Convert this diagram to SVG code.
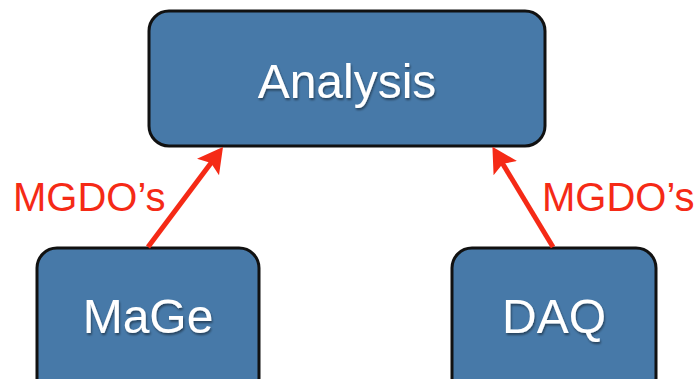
<svg xmlns="http://www.w3.org/2000/svg" width="697" height="379" viewBox="0 0 697 379">
<style>
.box{fill:#4779a8;stroke:#111;stroke-width:3}
.lbl{font-family:"Liberation Sans",Arial,sans-serif;font-size:48px;fill:#fff;text-anchor:middle}
.edge{font-family:"Liberation Sans",Arial,sans-serif;font-size:40px;fill:#f52a16}
.con{stroke:#f52a16;stroke-width:5;fill:none;marker-end:url(#ah)}
</style>
<defs>
<marker id="ah" viewBox="0 0 10 10" refX="8" refY="5" markerWidth="5" markerHeight="5.5" orient="auto" markerUnits="strokeWidth" preserveAspectRatio="none">
<path d="M0,0 L10,5 L0,10 L2,5 z" fill="#f52a16"/>
</marker>
<filter id="sh" x="-10%" y="-10%" width="120%" height="130%">
<feDropShadow dx="1" dy="2" stdDeviation="1.2" flood-color="#000" flood-opacity="0.45"/>
</filter>
</defs>
<rect width="697" height="379" fill="#fff"/>
<g id="analysis">
<rect class="box" x="149" y="11" width="396" height="135" rx="20"/>
<text class="lbl" x="347" y="98" filter="url(#sh)">Analysis</text>
</g>
<g id="mage">
<rect class="box" x="37" y="248" width="222" height="150" rx="20"/>
<text class="lbl" x="148" y="333" filter="url(#sh)">MaGe</text>
</g>
<g id="daq">
<rect class="box" x="452" y="248" width="204" height="150" rx="20"/>
<text class="lbl" x="554" y="333" filter="url(#sh)">DAQ</text>
</g>
<g id="connectors">
<line class="con" x1="148" y1="247" x2="220" y2="151"/>
<line class="con" x1="553" y1="247" x2="495" y2="151"/>
<text class="edge" x="13" y="211">MGDO’s</text>
<text class="edge" x="542" y="211">MGDO’s</text>
</g>
</svg>
